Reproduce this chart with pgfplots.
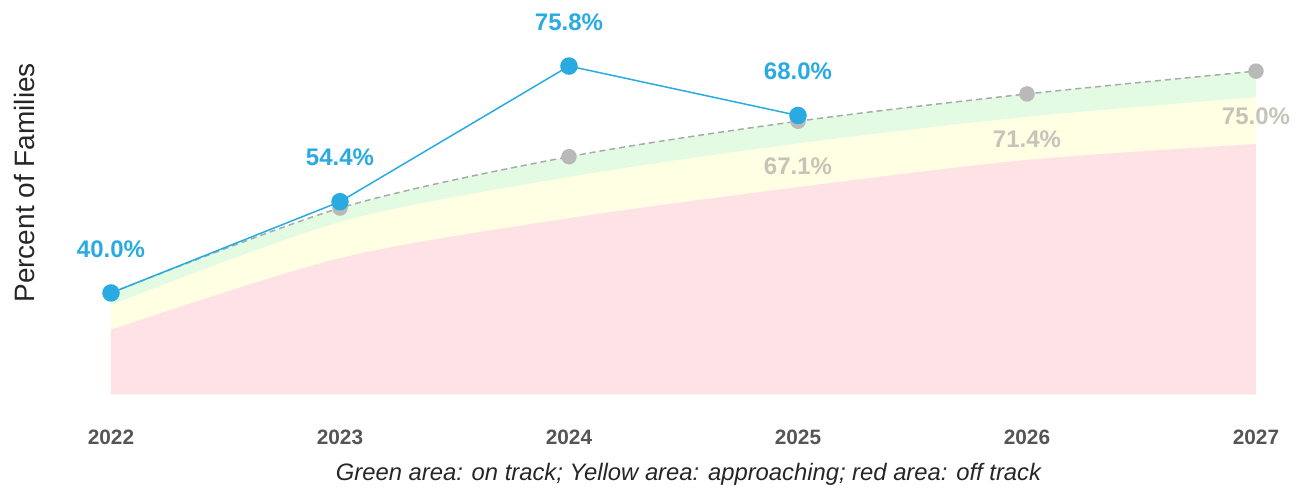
\documentclass[border=0pt]{standalone}
\usepackage{pgfplots}
\pgfplotsset{compat=1.18}
\usepackage{fontspec}
\setmainfont{Liberation Sans}
\definecolor{areagreen}{RGB}{226,251,226}
\definecolor{areayellow}{RGB}{255,255,228}
\definecolor{areared}{RGB}{255,226,229}
\definecolor{lineblue}{RGB}{41,171,226}
\definecolor{ptgray}{RGB}{185,185,185}
\definecolor{dashgray}{RGB}{170,170,170}
\definecolor{lblgray}{RGB}{196,196,184}
\definecolor{tickgray}{RGB}{85,85,85}
\begin{document}
\begin{tikzpicture}
\begin{axis}[
  at={(0,0)}, anchor=south west,
  scale only axis, width=572.5pt, height=196.5pt,
  xmin=2022, xmax=2027, ymin=24, ymax=86,
  axis line style={draw=none},
  major tick length=0pt,
  ytick=\empty,
  xtick={2022,2023,2024,2025,2026,2027},
  xticklabels={2022,2023,2024,2025,2026,2027},
  xticklabel style={anchor=base, yshift=-25pt, font=\fontsize{10.4}{12}\selectfont\bfseries, text=tickgray},
]
\addplot[draw=none, fill=areagreen, smooth, tension=0.5] coordinates {(2022,40) (2023,53.4) (2024,61.5) (2025,67.1) (2026,71.4) (2027,75.0)} \closedcycle;
\addplot[draw=none, fill=areayellow, smooth, tension=0.5] coordinates {(2022,38.1) (2023,51.2) (2024,58.3) (2025,63.6) (2026,67.8) (2027,70.9)} \closedcycle;
\addplot[draw=none, fill=areared, smooth, tension=0.5] coordinates {(2022,34.2) (2023,45.5) (2024,51.8) (2025,56.7) (2026,61.0) (2027,63.5)} \closedcycle;
\addplot[dashgray, line width=0.75pt, dash pattern=on 3pt off 2pt, smooth, tension=0.5,
  mark=*, mark size=3.5pt, mark options={solid, fill=ptgray, draw=ptgray},
  point meta=explicit symbolic, nodes near coords,
  nodes near coords align={center},
  every node near coord/.append style={anchor=center, yshift=-22.5pt, font=\fontsize{12}{14}\selectfont\bfseries, text=lblgray}]
  coordinates {(2022,40.0) [] (2023,53.4) [] (2024,61.5) [] (2025,67.1) [67.1\%] (2026,71.4) [71.4\%] (2027,75.0) [75.0\%]};
\addplot[lineblue, line width=0.75pt,
  mark=*, mark size=4pt, mark options={fill=lineblue, draw=lineblue},
  point meta=explicit symbolic, nodes near coords,
  nodes near coords align={center},
  every node near coord/.append style={anchor=center, yshift=22pt, font=\fontsize{12}{14}\selectfont\bfseries, text=lineblue}]
  coordinates {(2022,40.0) [40.0\%] (2023,54.4) [54.4\%] (2024,75.8) [75.8\%] (2025,68.0) [68.0\%]};
\end{axis}
\node[rotate=90, font=\fontsize{14}{16}\selectfont, text=black!85] at (-43.5pt,105.8pt) {Percent of Families};
\node[anchor=base, font=\fontsize{11.9}{14}\selectfont\itshape, text=black!85] at (288.75pt,-43pt) {Green area: on track; Yellow area: approaching; red area: off track};
\pgfresetboundingbox
\path[use as bounding box] (-55.5pt,-48.2pt) rectangle (595.5pt,197.2pt);
\end{tikzpicture}
\end{document}
